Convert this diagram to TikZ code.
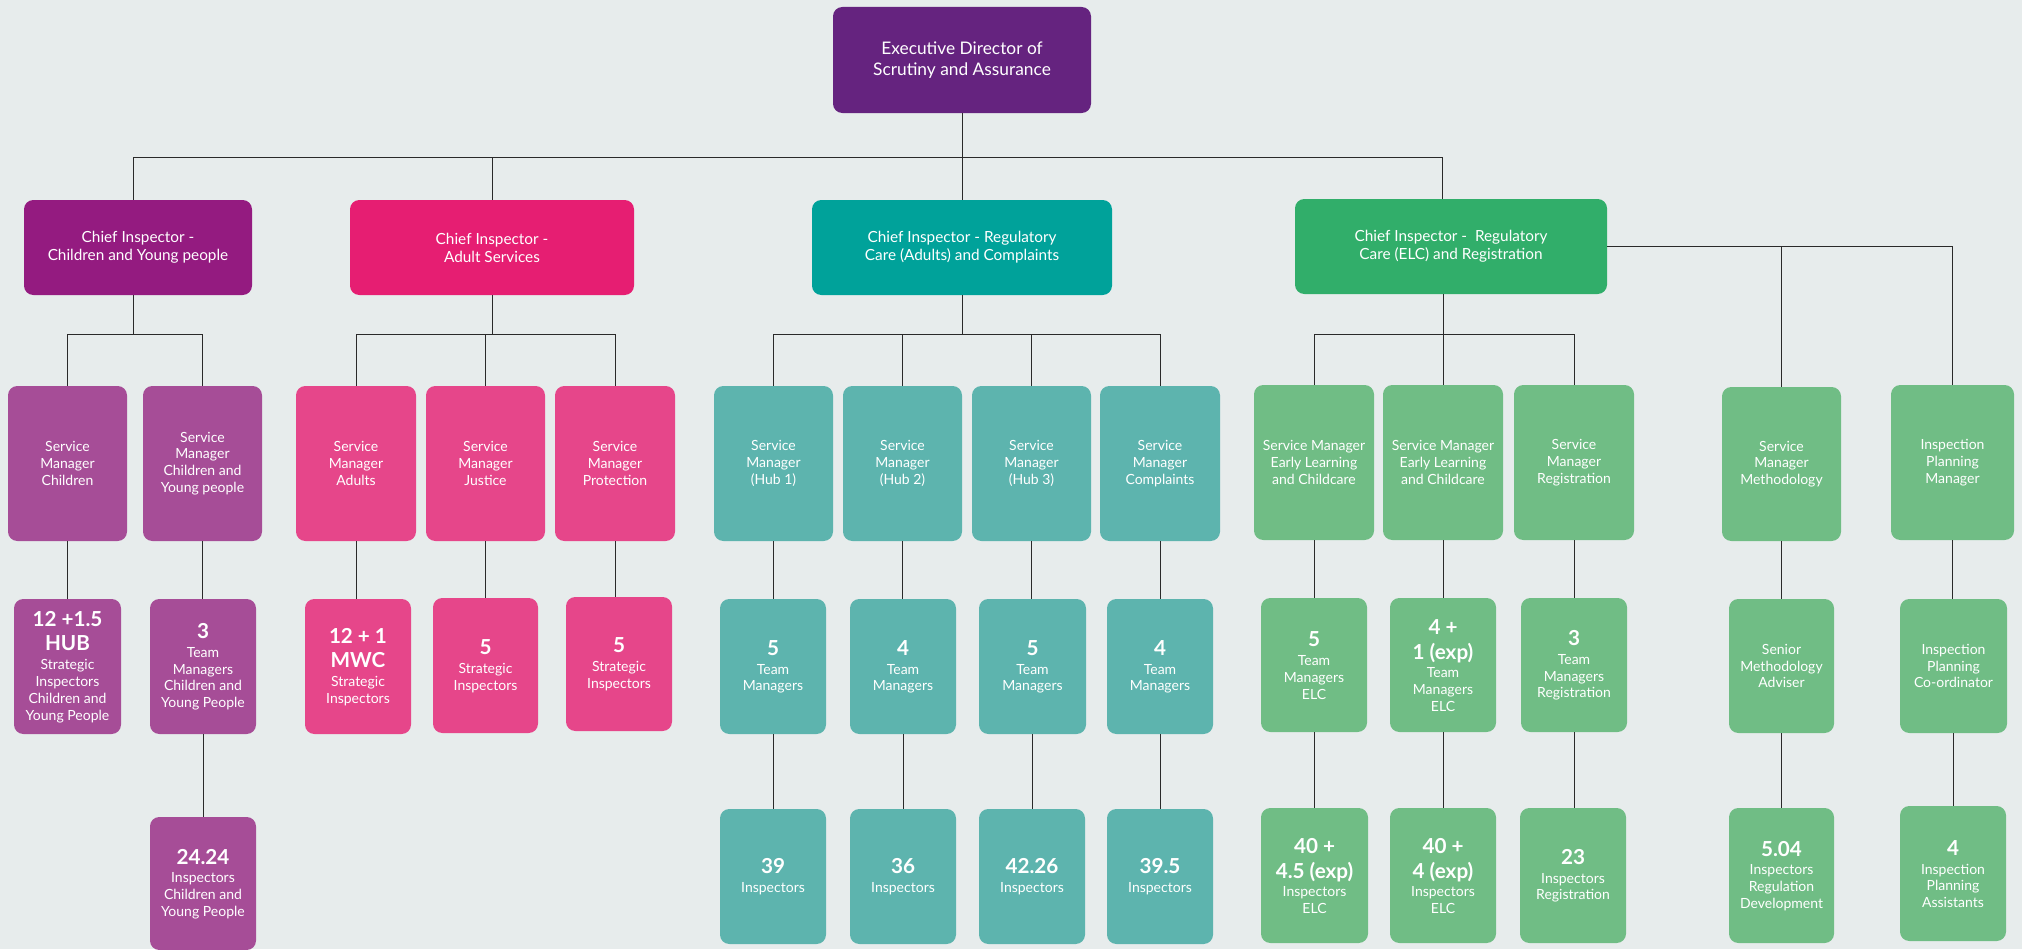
\documentclass[tikz,border=0pt]{standalone}
\usepackage{fontspec}
\setmainfont{Lato}
\definecolor{cBg}{HTML}{E7ECEC}
\definecolor{cExec}{HTML}{65237F}
\definecolor{cChild}{HTML}{941B80}
\definecolor{cAdult}{HTML}{E61E72}
\definecolor{cTeal}{HTML}{00A29A}
\definecolor{cGreen}{HTML}{31AE6A}
\definecolor{lPurple}{HTML}{A64D97}
\definecolor{lPink}{HTML}{E6468A}
\definecolor{lTeal}{HTML}{5DB4AE}
\definecolor{lGreen}{HTML}{70BD85}
\definecolor{cLine}{HTML}{2A2A2A}
\newcommand\nm[1]{{\fontsize{15.5}{18}\selectfont\bfseries\rule[-5.5pt]{0pt}{17.5pt}#1}}
\newcommand\ob[7]{%
 \pgfmathsetmacro\bw{(#5-#3)*0.75}%
 \pgfmathsetmacro\bh{(#6-#4)*0.75}%
 \node[#2, minimum width=\bw pt, minimum height=\bh pt] (#1) at ({(#3+#5)/2},{(#4+#6)/2}) {#7};}
\tikzset{
 box/.style={rectangle, rounded corners=7pt, inner sep=0pt, align=center, text=white,
   font=\fontsize{10.5}{12.6}\selectfont},
 execbox/.style={box, fill=cExec, font=\fontsize{13}{15.5}\selectfont},
 chief/.style={box, fill=#1, font=\fontsize{11.5}{13.5}\selectfont},
 pbox/.style={box, fill=lPurple},
 kbox/.style={box, fill=lPink},
 tbox/.style={box, fill=lTeal},
 gbox/.style={box, fill=lGreen},
 link/.style={draw=cLine, line width=0.75pt},
}
\begin{document}
\begin{tikzpicture}[x=0.75pt, y=-0.75pt]
\useasboundingbox (0,0) rectangle (2022,949);
\fill[cBg] (0,0) rectangle (2022,949);
\clip (0,0) rectangle (2022,949);
\coordinate (topY) at (0,157);
\coordinate (barY) at (0,334);
% top
\ob{exec}{execbox}{833}{7}{1091}{113}{Executive Director of\\Scrutiny and Assurance}
\ob{ciC}{chief=cChild}{24}{200}{252}{295}{Chief Inspector -\\Children and Young people}
\ob{ciA}{chief=cAdult}{350}{200}{634}{295}{Chief Inspector -\\Adult Services}
\ob{ciT}{chief=cTeal}{812}{200}{1112}{295}{Chief Inspector - Regulatory\\Care (Adults) and Complaints}
\ob{ciE}{chief=cGreen}{1295}{199}{1607}{294}{Chief Inspector -\ \ Regulatory\\Care (ELC) and Registration}
\coordinate (cTop) at ([xshift=-3.75pt]ciC.north);
\coordinate (cBot) at ([xshift=-3.75pt]ciC.south);
\coordinate (eTop) at ([xshift=-6.75pt]ciE.north);
\coordinate (eBot) at ([xshift=-6pt]ciE.south);
% level 2
\ob{smC}{pbox}{8}{386}{127}{541}{Service\\Manager\\Children}
\ob{smY}{pbox}{143}{386}{262}{541}{Service\\Manager\\Children and\\Young people}
\ob{smA}{kbox}{296}{386}{416}{541}{Service\\Manager\\Adults}
\ob{smJ}{kbox}{426}{386}{545}{541}{Service\\Manager\\Justice}
\ob{smP}{kbox}{555}{386}{675}{541}{Service\\Manager\\Protection}
\ob{smH1}{tbox}{714}{386}{833}{541}{Service\\Manager\\(Hub 1)}
\ob{smH2}{tbox}{843}{386}{962}{541}{Service\\Manager\\(Hub 2)}
\ob{smH3}{tbox}{972}{386}{1091}{541}{Service\\Manager\\(Hub 3)}
\ob{smCo}{tbox}{1100}{386}{1220}{541}{Service\\Manager\\Complaints}
\ob{smE1}{gbox}{1254}{385}{1374}{540}{Service Manager\\Early Learning\\and Childcare}
\ob{smE2}{gbox}{1383}{385}{1503}{540}{Service Manager\\Early Learning\\and Childcare}
\ob{smR}{gbox}{1514}{385}{1634}{540}{Service\\Manager\\Registration}
\ob{smM}{gbox}{1722}{387}{1841}{541}{Service\\Manager\\Methodology}
\ob{ipm}{gbox}{1891}{385}{2014}{540}{Inspection\\Planning\\Manager}
% level 3
\ob{tC}{pbox}{14}{599}{121}{734}{\nm{12 +1.5}\\\nm{HUB}\\Strategic\\Inspectors\\Children and\\Young People}
\ob{tY}{pbox}{150}{599}{256}{734}{\nm{3}\\Team\\Managers\\Children and\\Young People}
\ob{tA}{kbox}{305}{599}{411}{734}{\nm{12 + 1}\\\nm{MWC}\\Strategic\\Inspectors}
\ob{tJ}{kbox}{433}{598}{538}{733}{\nm{5}\\Strategic\\Inspectors}
\ob{tP}{kbox}{566}{597}{672}{731}{\nm{5}\\Strategic\\Inspectors}
\ob{tH1}{tbox}{720}{599}{826}{734}{\nm{5}\\Team\\Managers}
\ob{tH2}{tbox}{850}{599}{956}{734}{\nm{4}\\Team\\Managers}
\ob{tH3}{tbox}{979}{599}{1086}{734}{\nm{5}\\Team\\Managers}
\ob{tCo}{tbox}{1107}{599}{1213}{734}{\nm{4}\\Team\\Managers}
\ob{tE1}{gbox}{1261}{598}{1367}{732}{\nm{5}\\Team\\Managers\\ELC}
\ob{tE2}{gbox}{1390}{598}{1496}{732}{\nm{4 +}\\\nm{1 (exp)}\\Team\\Managers\\ELC}
\ob{tR}{gbox}{1521}{598}{1627}{732}{\nm{3}\\Team\\Managers\\Registration}
\ob{tM}{gbox}{1729}{599}{1834}{733}{Senior\\Methodology\\Adviser}
\ob{tI}{gbox}{1900}{599}{2007}{733}{Inspection\\Planning\\Co-ordinator}
% level 4
\ob{iY}{pbox}{150}{817}{256}{950}{\nm{24.24}\\Inspectors\\Children and\\Young People}
\ob{iH1}{tbox}{720}{809}{826}{944}{\nm{39}\\Inspectors}
\ob{iH2}{tbox}{850}{809}{956}{944}{\nm{36}\\Inspectors}
\ob{iH3}{tbox}{979}{809}{1085}{944}{\nm{42.26}\\Inspectors}
\ob{iCo}{tbox}{1107}{809}{1213}{944}{\nm{39.5}\\Inspectors}
\ob{iE1}{gbox}{1261}{808}{1368}{943}{\nm{40 +}\\\nm{4.5 (exp)}\\Inspectors\\ELC}
\ob{iE2}{gbox}{1390}{808}{1496}{943}{\nm{40 +}\\\nm{4 (exp)}\\Inspectors\\ELC}
\ob{iR}{gbox}{1520}{808}{1626}{943}{\nm{23}\\Inspectors\\Registration}
\ob{iM}{gbox}{1729}{808}{1834}{943}{\nm{5.04}\\Inspectors\\Regulation\\Development}
\ob{iI}{gbox}{1900}{806}{2006}{941}{\nm{4}\\Inspection\\Planning\\Assistants}
% connectors: top
\draw[link] (exec.south) -- (ciT.north);
\draw[link] (cTop) |- (topY -| eTop) -- (eTop);
\draw[link] (ciA.north) -- (ciA.north |- topY);
% chief to service managers
\draw[link] (cBot) -- (cBot |- barY);
\draw[link] (smC.north) |- (barY -| smY.north) -- (smY.north);
\draw[link] (ciA.south) -- (ciA.south |- barY);
\draw[link] (smA.north) |- (barY -| smP.north) -- (smP.north);
\draw[link] (smJ.north) -- (smJ.north |- barY);
\draw[link] (ciT.south) -- (ciT.south |- barY);
\draw[link] (smH1.north) |- (barY -| smCo.north) -- (smCo.north);
\draw[link] (smH2.north) -- (smH2.north |- barY);
\draw[link] (smH3.north) -- (smH3.north |- barY);
\draw[link] (eBot) -- (eBot |- barY);
\draw[link] (smE1.north) |- (barY -| smR.north) -- (smR.north);
\draw[link] (smE2.north) -- (smE2.north |- barY);
\draw[link] (ciE.east) -| (ipm.north);
\draw[link] (smM.north) -- (smM.north |- ciE.east);
% vertical chains
\foreach \a/\b in {smC/tC, smY/tY, tY/iY, smA/tA, smJ/tJ, smP/tP,
  smH1/tH1, tH1/iH1, smH2/tH2, tH2/iH2, smH3/tH3, tH3/iH3, smCo/tCo, tCo/iCo,
  smE1/tE1, tE1/iE1, smE2/tE2, tE2/iE2, smR/tR, tR/iR, smM/tM, tM/iM, ipm/tI, tI/iI}
  \draw[link] (\a.south) -- (\a.south |- \b.north);
\end{tikzpicture}
\end{document}
